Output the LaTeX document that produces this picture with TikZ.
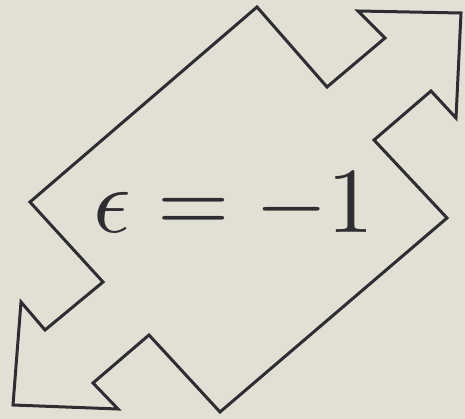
\documentclass[tikz,border=0pt]{standalone}
\usepackage{amsmath}
\usepackage{tikz}
\definecolor{paper}{HTML}{E2E0D5}
\definecolor{ink}{HTML}{2E2E32}

\begin{document}
\begin{tikzpicture}[
    x=1pt, y=-1pt,
    outline/.style={draw=ink, line width=3pt, line join=miter},
    label/.style={text=ink, inner sep=0pt, scale=9.3}
]
    \fill[paper] (0,0) rectangle (465,419);
    \useasboundingbox (0,0) rectangle (465,419);

    \draw[outline] (257,7) -- (327,87) -- (385,38) -- (358,11) -- (461,13)
        -- (456,118) -- (431,91) -- (374,140) -- (447,218) -- (220,412)
        -- (149,335) -- (93,383) -- (118,409) -- (13,405) -- (21,302)
        -- (45,330) -- (103,282) -- (30,202) -- cycle;

    \node[label, anchor=base] (eps) at (234,233) {$\epsilon = -1$};
\end{tikzpicture}
\end{document}
